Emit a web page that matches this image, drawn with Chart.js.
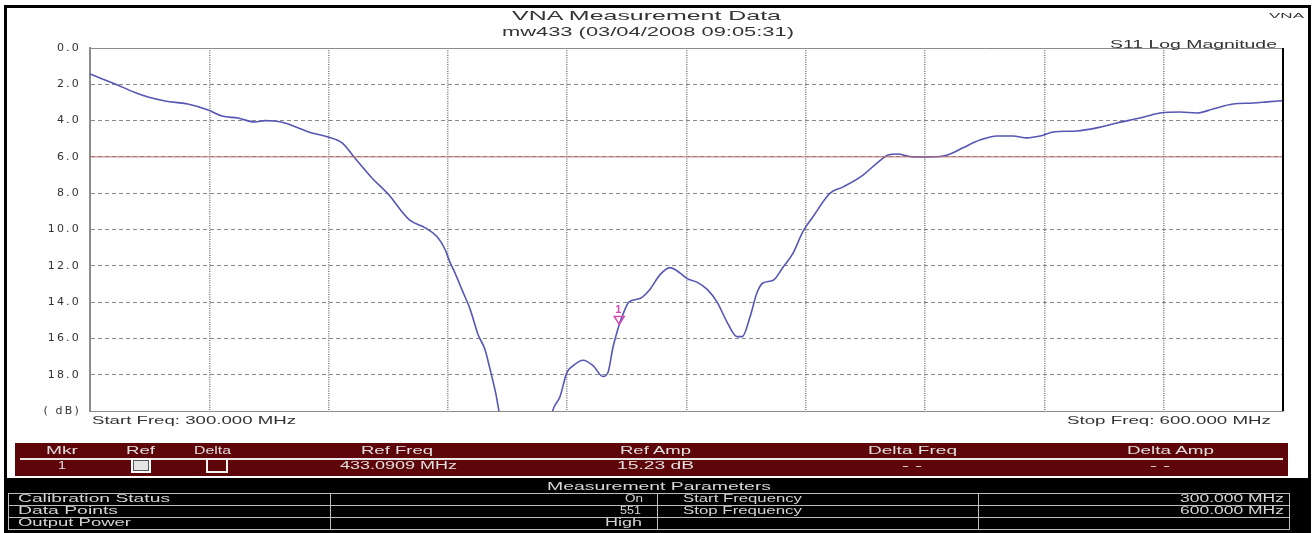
<!DOCTYPE html>
<html>
<head>
<meta charset="utf-8">
<script src="https://cdn.jsdelivr.net/npm/chart.js@4/dist/chart.umd.min.js"></script>
<style>
  html, body { margin: 0; padding: 0; background: #fff; }
  body { width: 1315px; height: 533px; position: relative; overflow: hidden; }
  #plot { position: absolute; left: 0; top: 0; }
  .box { position: absolute; box-sizing: border-box; }
  .lbl { position: absolute; white-space: pre; line-height: 1; transform-origin: 0 50%;
         font-family: 'Liberation Sans', Arial, sans-serif; }
</style>
</head>
<body>
<canvas id="plot" width="1315" height="533"></canvas>
<script>
// S11 trace (frequency in MHz, return loss in dB; values past 20 dB fall below the plot)
const freqMHz = [300.0, 302.5, 306.3, 311.3, 314.6, 318.9, 324.6, 329.7, 333.2, 337.2,
  341.5, 344.0, 346.5, 349.0, 355.8, 359.9, 363.4, 366.6, 370.9, 375.4,
  378.0, 380.5, 384.2, 387.3, 389.3, 390.5, 391.8, 393.5, 395.6, 397.6,
  399.3, 400.6, 402.1, 403.1, 406.0, 409.0, 411.5, 414.0, 416.2, 418.2,
  419.9, 421.5, 424.0, 426.5, 429.0, 430.3, 431.5, 433.1, 433.8, 435.5,
  438.3, 440.8, 443.3, 445.8, 448.4, 450.1, 452.6, 455.2, 457.7, 460.2,
  462.7, 464.0, 466.0, 467.7, 469.2, 471.8, 474.3, 476.8, 479.3, 481.8,
  486.1, 489.4, 494.4, 497.9, 500.7, 502.9, 507.0, 510.5, 514.5, 516.3,
  519.5, 523.8, 528.1, 532.1, 535.6, 538.9, 542.2, 548.2, 553.2, 558.3,
  564.0, 569.1, 574.1, 578.4, 582.4, 587.4, 592.5, 596.0, 600.0];
const s11dB = [1.43, 1.65, 1.98, 2.45, 2.70, 2.92, 3.09, 3.42, 3.75, 3.86,
  4.08, 4.00, 4.02, 4.13, 4.68, 4.90, 5.23, 6.06, 7.16, 8.15,
  8.90, 9.50, 9.90, 10.40, 11.10, 11.80, 12.40, 13.30, 14.40, 15.80,
  16.60, 17.70, 19.10, 20.30, 22.50, 24.50, 24.80, 23.00, 20.10, 19.20,
  17.90, 17.50, 17.20, 17.50, 18.10, 17.85, 16.50, 15.23, 14.80, 14.00,
  13.80, 13.30, 12.50, 12.10, 12.40, 12.70, 12.90, 13.30, 14.00, 15.10,
  15.90, 15.90, 14.80, 13.50, 12.95, 12.80, 12.07, 11.30, 10.10, 9.30,
  8.00, 7.65, 7.00, 6.34, 5.90, 5.84, 6.00, 6.00, 5.95, 5.84,
  5.50, 5.07, 4.85, 4.85, 4.95, 4.85, 4.63, 4.57, 4.40, 4.13,
  3.86, 3.58, 3.53, 3.58, 3.36, 3.09, 3.03, 2.97, 2.90];

const refLevelX = [300, 600];
const refLevelDB = [6.0, 6.0];

const markerFreq = 433.0909;
const markerAmp = 15.23;

const yTickValues = [0, 2, 4, 6, 8, 10, 12, 14, 16, 18, 20];

const markerHeaders = ['Mkr', 'Ref', 'Delta', 'Ref Freq', 'Ref Amp', 'Delta Freq', 'Delta Amp'];
const markerRow = ['1', '', '', '433.0909 MHz', '15.23 dB', '- -', '- -'];
const paramNames = ['Calibration Status', 'Data Points', 'Output Power'];
const paramValues = ['On', '551', 'High'];
const paramNames2 = ['Start Frequency', 'Stop Frequency', ''];
const paramValues2 = ['300.000 MHz', '600.000 MHz', ''];

// marker "1" with its hollow triangle
const markerPlugin = {
    id: 'marker',
    afterDatasetsDraw(chart) {
        const ctx = chart.ctx;
        const px = chart.scales.x.getPixelForValue(markerFreq);
        const py = chart.scales.y.getPixelForValue(markerAmp);
        ctx.save();
        ctx.letterSpacing = '0px';
        ctx.strokeStyle = '#d24bb4';
        ctx.fillStyle = '#d24bb4';
        ctx.lineWidth = 1.5;
        ctx.beginPath();
        ctx.moveTo(px - 5, py - 8);
        ctx.lineTo(px + 5, py - 8);
        ctx.lineTo(px, py);
        ctx.closePath();
        ctx.stroke();
        ctx.font = 'bold 11px "Liberation Sans", Arial, sans-serif';
        ctx.textAlign = 'center';
        ctx.textBaseline = 'middle';
        ctx.fillText('1', px - 1, py - 14);
        ctx.restore();
    }
};

// plot frame: grey top, black right
const framePlugin = {
    id: 'frame',
    beforeDraw(chart) { chart.ctx.letterSpacing = '2.2px'; },
    afterDraw(chart) {
        const {ctx, chartArea: a} = chart;
        ctx.save();
        ctx.strokeStyle = '#8c8c8c';
        ctx.lineWidth = 1;
        ctx.beginPath();
        ctx.moveTo(a.left, a.top + 0.5);
        ctx.lineTo(a.right, a.top + 0.5);
        ctx.stroke();
        ctx.strokeStyle = '#000';
        ctx.lineWidth = 2;
        ctx.beginPath();
        ctx.moveTo(a.right, a.top);
        ctx.lineTo(a.right, a.bottom);
        ctx.stroke();
        ctx.restore();
    }
};

new Chart(document.getElementById('plot'), {
    type: 'line',
    data: {
        datasets: [{
            label: 'Ref level',
            data: refLevelX.map((f, i) => ({x: f, y: refLevelDB[i]})),
            borderColor: '#b86e6e',
            borderWidth: 1,
            pointRadius: 0,
            clip: 0
        }, {
            label: 'S11',
            data: freqMHz.map((f, i) => ({x: f, y: s11dB[i]})),
            borderColor: '#5656b4',
            borderWidth: 1.6,
            pointRadius: 0,
            cubicInterpolationMode: 'monotone',
            clip: 0
        }]
    },
    options: {
        responsive: false,
        animation: false,
        layout: {
            padding: {left: 0, top: 48, right: 32, bottom: 122}
        },
        plugins: {
            legend: {display: false},
            tooltip: {enabled: false}
        },
        scales: {
            x: {
                type: 'linear',
                min: 300,
                max: 600,
                afterFit(s) { s.height = 0; },
                ticks: {display: false, stepSize: 30},
                grid: {
                    color: '#7f7f7f',
                    lineWidth: 1.5,
                    drawTicks: false
                },
                border: {display: true, color: '#8c8c8c', width: 1, dash: [1, 1.3]}
            },
            y: {
                type: 'linear',
                reverse: true,
                min: 0,
                max: 20,
                afterFit(s) { s.width = 90; },
                afterBuildTicks(s) { s.ticks = yTickValues.map(v => ({value: v})); },
                ticks: {
                    padding: 9,
                    color: '#333',
                    font: {family: '"DejaVu Sans", sans-serif', size: 11},
                    callback: v => v === 20 ? '( dB)' : v.toFixed(1)
                },
                grid: {
                    color: '#8a8a8a',
                    lineWidth: 1,
                    drawTicks: false
                },
                border: {display: true, color: '#8c8c8c', width: 2, dash: [4, 3]}
            }
        }
    },
    plugins: [markerPlugin, framePlugin]
});

// ---- text and tables around the plot ----
function rect(x, y, w, h, css) {
    const d = document.createElement('div');
    d.className = 'box';
    Object.assign(d.style, {left: x + 'px', top: y + 'px', width: w + 'px', height: h + 'px'}, css);
    document.body.appendChild(d);
    return d;
}
function put(text, x1, x2, yc, size, color) {
    if (!text) return;
    const el = document.createElement('div');
    el.className = 'lbl';
    el.textContent = text;
    el.style.fontSize = size + 'px';
    el.style.color = color || '#222';
    document.body.appendChild(el);
    const r = el.getBoundingClientRect();
    el.style.left = x1 + 'px';
    el.style.top = (yc - r.height / 2) + 'px';
    el.style.transform = 'scaleX(' + ((x2 - x1) / r.width).toFixed(3) + ')';
}

// outer frame
rect(4, 5, 1307, 540, {border: '3px solid #000'});

// titles
put('VNA Measurement Data', 512, 781, 15, 13, '#333');
put('mw433 (03/04/2008 09:05:31)', 502, 794, 31, 13, '#333');
put('VNA', 1269, 1304, 16, 8, '#333');
put('S11 Log Magnitude', 1110, 1277, 44, 10.5, '#333');
put('Start Freq: 300.000 MHz', 92, 296, 420, 10.5, '#333');
put('Stop Freq: 600.000 MHz', 1067, 1271, 420, 10.5, '#333');

// marker table
rect(15, 443, 1273, 33, {background: '#5e0509'});
rect(20, 458, 1263, 2, {background: '#e8e8e8'});
const mkCols = [[46, 78], [126, 155], [194, 231], [361, 433], [620, 691], [868, 957], [1127, 1214]];
const mkRowCols = [[58, 66], null, null, [340, 457], [617, 694], [902, 922], [1150, 1170]];
markerHeaders.forEach((h, i) => put(h, mkCols[i][0], mkCols[i][1], 451, 10, '#e0e0e0'));
markerRow.forEach((v, i) => { if (mkRowCols[i]) put(v, mkRowCols[i][0], mkRowCols[i][1], 466, 10, '#e0e0e0'); });
rect(131, 458, 20, 15, {border: '2px solid #fff', background: '#e4e4e4', boxShadow: 'inset 0 0 0 1px #555'});
rect(206, 458, 22, 15, {border: '2px solid #f2f2f2', background: '#5e0509'});

// measurement parameters
rect(5, 478, 1305, 60, {background: '#000'});
put('Measurement Parameters', 547, 771, 487, 10, '#d8d8d8');
[493, 505, 517, 529].forEach(y => rect(8, y, 1282, 1, {background: '#bdbdbd'}));
[8, 330, 657, 978, 1289].forEach(x => rect(x, 493, 1, 37, {background: '#bdbdbd'}));
const nameW = [[18, 170], [18, 118], [18, 131]];
const valW = [[625, 643], [620, 641], [605, 642]];
paramNames.forEach((n, i) => put(n, nameW[i][0], nameW[i][1], 499 + i * 12, 10, '#d4d4d4'));
paramValues.forEach((v, i) => put(v, valW[i][0], valW[i][1], 499 + i * 12, 10, '#d4d4d4'));
paramNames2.forEach((n, i) => put(n, 683, 802, 499 + i * 12, 10, '#d4d4d4'));
paramValues2.forEach((v, i) => put(v, 1180, 1284, 499 + i * 12, 10, '#d4d4d4'));
</script>
</body>
</html>
